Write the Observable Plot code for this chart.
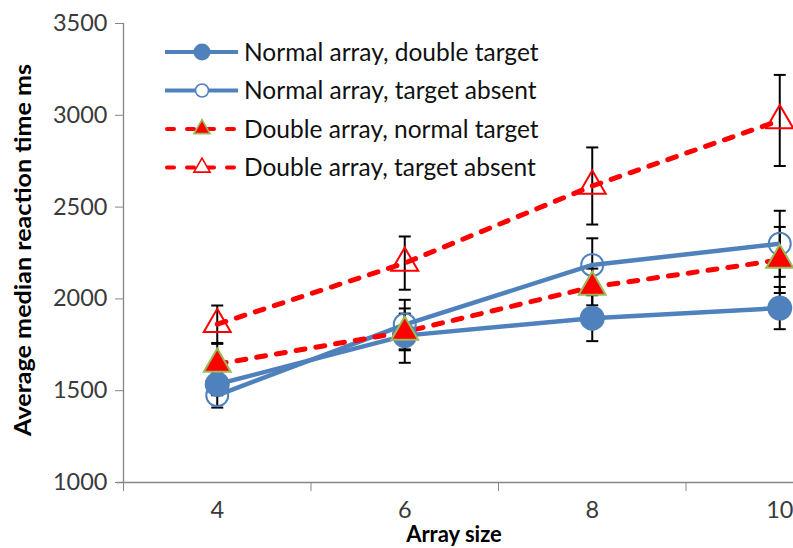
<!DOCTYPE html>
<html>
<head>
<meta charset="utf-8">
<script src="https://cdn.jsdelivr.net/npm/d3@7"></script>
<script src="https://cdn.jsdelivr.net/npm/@observablehq/plot@0.6"></script>
<style>
  html, body { margin: 0; padding: 0; background: white; overflow: hidden; }
  #chart { position: relative; width: 793px; height: 548px; }
</style>
</head>
<body>
<div id="chart"></div>
<script>
// ---- data ----
const arraySizes = [4, 6, 8, 10];
const seriesNames = [
  "Normal array, double target",
  "Normal array, target absent",
  "Double array, normal target",
  "Double array, target absent"
];
const normalDouble   = [1535, 1800, 1895, 1950];
const normalDoubleErr = [60, 148, 125, 115];
const normalAbsent   = [1475, 1860, 2185, 2300];
const normalAbsentErr = [67, 135, 145, 180];
const doubleNormal   = [1645, 1820, 2065, 2212];
const doubleNormalErr = [110, 100, 100, 180];
const doubleAbsent   = [1862, 2195, 2615, 2972];
const doubleAbsentErr = [102, 145, 210, 248];
const yTicks = [1000, 1500, 2000, 2500, 3000, 3500];
const xBoundaries = [3, 5, 7, 9, 11];

// ---- styles ----
const BLUE = "#4F81BD", RED = "#FF0000", GREEN = "#9BBB59";
const styles = [
  {stroke: BLUE, dash: null, symbol: "circle", fill: BLUE, mstroke: BLUE, r: 12.5, lr: 8.5, msw: 0},
  {stroke: BLUE, dash: null, symbol: "circle", fill: "none", mstroke: BLUE, r: 11, lr: 6.5, msw: 2},
  {stroke: RED, dash: "9,11", symbol: "triangle", fill: RED, mstroke: GREEN, r: 10, lr: 6, msw: 2},
  {stroke: RED, dash: "9,11", symbol: "triangle", fill: "none", mstroke: RED, r: 10, lr: 6, msw: 2}
];
const values = [normalDouble, normalAbsent, doubleNormal, doubleAbsent];
const errs = [normalDoubleErr, normalAbsentErr, doubleNormalErr, doubleAbsentErr];

const rows = seriesNames.map((name, s) =>
  arraySizes.map((size, i) => ({series: name, s, size, value: values[s][i], err: errs[s][i]}))
);
const allRows = rows.flat();

const capSymbol = {
  draw(context, size) {
    const w = Math.sqrt(size / Math.PI);
    context.moveTo(-w, 0);
    context.lineTo(w, 0);
  }
};

const marks = [
  // axes
  Plot.ruleY([1000], {x1: 2.93, x2: 11, stroke: "#868686", strokeWidth: 1.3}),
  Plot.ruleX([3], {y1: 1000, y2: 3500, stroke: "#868686", strokeWidth: 1.3}),
  Plot.axisY(yTicks, {tickSize: 8, tickPadding: 8, stroke: "#868686", fill: "#3a3a3a", fontSize: 23.5, tickFormat: d => String(d), label: null}),
  Plot.axisX(xBoundaries, {tickSize: 9, stroke: "#868686", tickFormat: () => "", label: null}),
  Plot.axisX(arraySizes, {tickSize: 0, tickPadding: 19, fill: "#3a3a3a", fontSize: 23.5, tickFormat: d => String(d), label: null}),
  // error bars
  Plot.ruleX(allRows, {x: "size", y1: d => d.value - d.err, y2: d => d.value + d.err, stroke: "black", strokeWidth: 2}),
  Plot.dot(allRows, {x: "size", y: d => d.value + d.err, symbol: capSymbol, r: 6, stroke: "black", strokeWidth: 2, fill: "none"}),
  Plot.dot(allRows, {x: "size", y: d => d.value - d.err, symbol: capSymbol, r: 6, stroke: "black", strokeWidth: 2, fill: "none"}),
];
// lines
rows.forEach((data, s) => {
  const st = styles[s];
  marks.push(Plot.line(data, {x: "size", y: "value", stroke: st.stroke, strokeWidth: st.dash ? 5 : 4.5,
    strokeDasharray: st.dash || undefined, strokeLinecap: st.dash ? "round" : "butt"}));
});
// markers
rows.forEach((data, s) => {
  const st = styles[s];
  marks.push(Plot.dot(data, {x: "size", y: "value", symbol: st.symbol, r: st.r,
    fill: st.fill, stroke: st.msw ? st.mstroke : "none", strokeWidth: st.msw}));
});

const plot = Plot.plot({
  width: 793,
  height: 548,
  marginLeft: 123,
  marginRight: 0,
  marginTop: 23,
  marginBottom: 66,
  style: {fontFamily: "Lato, 'Open Sans', sans-serif", fontSize: "22px", background: "white", color: "#404040", overflow: "visible"},
  x: {type: "linear", domain: [3, 11], range: [123, 873], axis: null},
  y: {domain: [1000, 3500], axis: null},
  marks
});
document.getElementById("chart").appendChild(plot);

// titles
const svg = d3.select(plot);
svg.append("text")
  .attr("transform", "translate(31,250) rotate(-90)")
  .attr("text-anchor", "middle")
  .attr("font-family", "Lato, sans-serif")
  .attr("font-weight", "bold")
  .attr("font-size", 23)
  .attr("textLength", 372)
  .attr("lengthAdjust", "spacingAndGlyphs")
  .attr("fill", "black")
  .text("Average median reaction time ms");
svg.append("text")
  .attr("x", 454).attr("y", 542)
  .attr("text-anchor", "middle")
  .attr("font-family", "Lato, sans-serif")
  .attr("font-weight", "bold")
  .attr("font-size", 22)
  .attr("fill", "black")
  .text("Array size");

// legend
const lg = svg.append("g").attr("transform", "translate(165,52)");
seriesNames.forEach((name, s) => {
  const st = styles[s];
  const g = lg.append("g").attr("transform", `translate(0,${s * 38.5})`);
  g.append("line").attr("x1", st.dash ? 2 : 0).attr("x2", st.dash ? 70 : 73).attr("y1", 0).attr("y2", 0)
    .attr("stroke", st.stroke).attr("stroke-width", 4)
    .attr("stroke-dasharray", st.dash ? "7,13" : null)
    .attr("stroke-linecap", st.dash ? "round" : "butt");
  const sym = d3.symbol(st.symbol === "circle" ? d3.symbolCircle : d3.symbolTriangle, Math.PI * st.lr * st.lr);
  g.append("path").attr("d", sym()).attr("transform", "translate(37,0)")
    .attr("fill", st.fill === "none" ? "white" : st.fill)
    .attr("stroke", st.msw ? st.mstroke : "none").attr("stroke-width", st.msw ? 1.6 : 0);
  g.append("text").attr("x", 79).attr("y", 0).attr("dy", "0.35em")
    .attr("text-anchor", "start")
    .attr("font-family", "Lato, sans-serif").attr("font-size", 24.5).attr("fill", "#111")
    .text(name);
});
</script>
</body>
</html>
